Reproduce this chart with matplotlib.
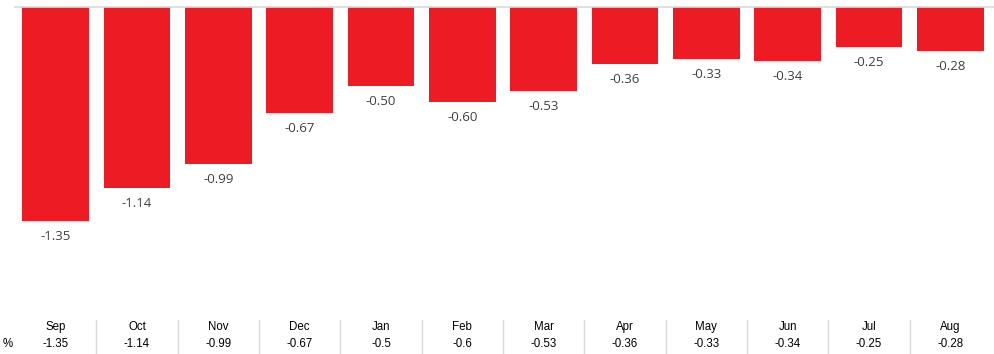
import matplotlib
matplotlib.use("Agg")
import matplotlib.pyplot as plt

months = ["Sep", "Oct", "Nov", "Dec", "Jan", "Feb", "Mar", "Apr", "May", "Jun", "Jul", "Aug"]
values = [-1.35, -1.14, -0.99, -0.67, -0.50, -0.60, -0.53, -0.36, -0.33, -0.34, -0.25, -0.28]
table_labels = ["-1.35", "-1.14", "-0.99", "-0.67", "-0.5", "-0.6", "-0.53", "-0.36", "-0.33", "-0.34", "-0.25", "-0.28"]
row_label = "%"

W, H = 995, 354
fig = plt.figure(figsize=(W / 100, H / 100), dpi=100)
left, right, top, bottom = 15, 991, 7, 310
ax = fig.add_axes([left / W, 1 - bottom / H, (right - left) / W, (bottom - top) / H])
x = list(range(len(months)))
ax.bar(x, values, width=0.82, color="#ED1C24", zorder=2)
ax.set_xlim(-0.5, len(months) - 0.5)
ax.set_ylim(-1.91, 0)
for s in ax.spines.values():
    s.set_visible(False)
ax.set_xticks([])
ax.set_yticks([])
fig.add_artist(plt.Line2D([left / W, 995 / W], [1 - top / H, 1 - top / H], color="#D9D9D9", lw=1.2))

for xi, v in zip(x, values):
    ax.annotate(f"{v:.2f}", (xi, v), xytext=(0, -6.5), textcoords="offset points",
                ha="center", va="top", fontsize=9.5, color="#404040", family="Open Sans")

# data table
for xi, m, t in zip(x, months, table_labels):
    xf = (left + (xi + 0.5) * (right - left) / len(months)) / W
    fig.text(xf, 1 - 327 / H, m, ha="center", va="center", fontsize=8.3, family="Liberation Sans", color="#000000")
    fig.text(xf, 1 - 344 / H, t, ha="center", va="center", fontsize=8.3, family="Liberation Sans", color="#000000")
    if xi > 0:
        xs = (left + xi * (right - left) / len(months)) / W
        fig.add_artist(plt.Line2D([xs, xs], [0, 1 - 320 / H], color="#D9D9D9", lw=1))
fig.text(8 / W, 1 - 344 / H, row_label, ha="center", va="center", fontsize=8.3, family="Liberation Sans")

fig.savefig("out.png", dpi=100)
